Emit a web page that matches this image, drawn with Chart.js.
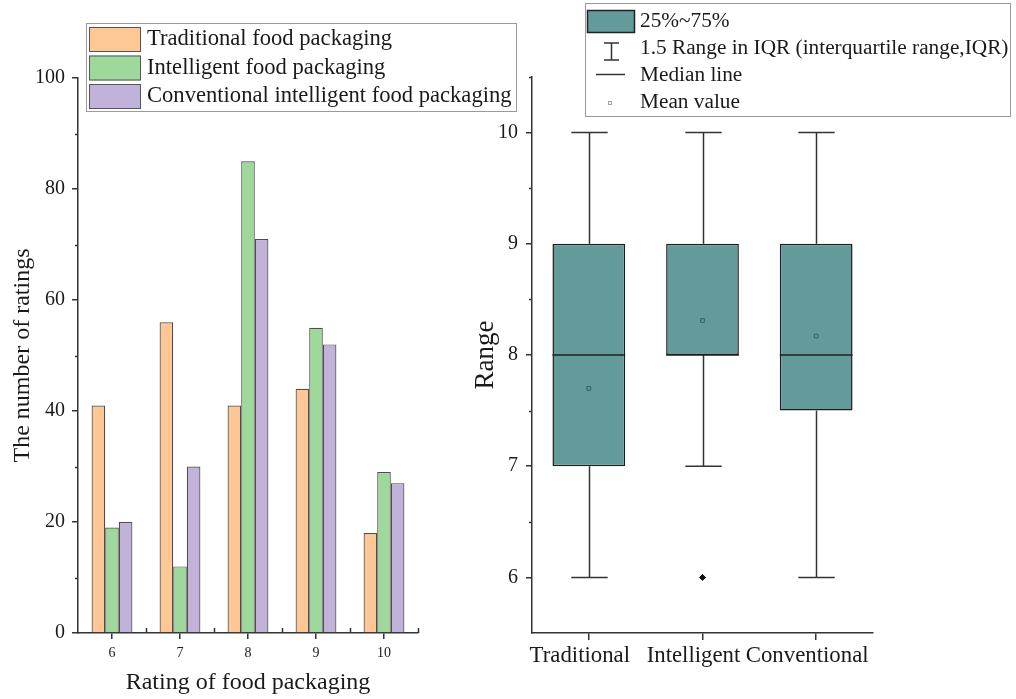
<!DOCTYPE html>
<html>
<head>
<meta charset="utf-8">
<title>Food packaging ratings</title>
<script src="https://cdn.jsdelivr.net/npm/chart.js@4.4.1/dist/chart.umd.min.js"></script>
<style>
  html, body { margin: 0; padding: 0; background: #fff; }
  #wrap { position: relative; width: 1016px; height: 699px; }
  canvas { position: absolute; left: 0; top: 0; }
</style>
</head>
<body>
<div id="wrap">
  <canvas id="barChart" width="1016" height="699"></canvas>
  <canvas id="boxChart" width="1016" height="699"></canvas>
</div>
<script>
/* ===== DATA ===== */
const ratingLabels = ["6", "7", "8", "9", "10"];
const seriesNames = ["Traditional food packaging", "Intelligent food packaging", "Conventional intelligent food packaging"];
const traditionalCounts = [41, 56, 41, 44, 18];
const intelligentCounts = [19, 12, 85, 55, 29];
const conventionalCounts = [20, 30, 71, 52, 27];
const countTicks = [0, 20, 40, 60, 80, 100];
const countMinorTicks = [10, 30, 50, 70, 90];

const groupLabels = ["Traditional", "Intelligent", "Conventional"];
const boxMin = [6, 7, 6];
const boxQ1 = [7, 8, 7.5];
const boxMedian = [8, 8, 8];
const boxQ3 = [9, 9, 9];
const boxMax = [10, 10, 10];
const boxMean = [7.70, 8.31, 8.17];
const boxOutliers = [[], [6], []];
const rangeTicks = [6, 7, 8, 9, 10];
const rangeMinorTicks = [6.5, 7.5, 8.5, 9.5, 10.5];
const boxLegendLabels = ["25%~75%", "1.5 Range in IQR (interquartile range,IQR)", "Median line", "Mean value"];

/* ===== STYLE ===== */
const SERIF = "'Liberation Serif', 'Times New Roman', serif";
const TEXT = "#1a1a1a";
const AXIS = "#333";
const ORANGE = "#FDC896";
const GREEN = "#9ED99B";
const PURPLE = "#C0B2D8";
const TEAL = "#639A9A";

Chart.defaults.font.family = SERIF;
Chart.defaults.color = TEXT;

/* ===== PLUGINS ===== */
const minorTicks = {
  id: "minorTicks",
  afterDraw(chart, args, opts) {
    const ctx = chart.ctx;
    const y = chart.scales.y;
    ctx.save();
    ctx.strokeStyle = AXIS;
    ctx.lineWidth = 1.5;
    opts.values.forEach(v => {
      const py = Math.round(y.getPixelForValue(v)) + 0.5;
      ctx.beginPath();
      ctx.moveTo(y.right, py);
      ctx.lineTo(y.right - opts.length, py);
      ctx.stroke();
    });
    ctx.restore();
  }
};

// small inward ticks between rating groups
const boundaryTicks = {
  id: "boundaryTicks",
  afterDraw(chart) {
    const ctx = chart.ctx;
    const x = chart.scales.x;
    const n = chart.data.labels.length;
    const step = (x.right - x.left) / n;
    ctx.save();
    ctx.strokeStyle = AXIS;
    ctx.lineWidth = 1.5;
    for (let i = 1; i <= n; i++) {
      const px = Math.round(x.left + i * step) + 0.5;
      ctx.beginPath();
      ctx.moveTo(px, x.top);
      ctx.lineTo(px, x.top - 5);
      ctx.stroke();
    }
    ctx.restore();
  }
};

const barLegend = {
  id: "barLegend",
  afterDraw(chart) {
    const ctx = chart.ctx;
    ctx.save();
    ctx.fillStyle = "#fff";
    ctx.fillRect(86.5, 23.5, 430, 88);
    ctx.strokeStyle = "#9a9a9a";
    ctx.lineWidth = 1;
    ctx.strokeRect(86.5, 23.5, 430, 88);
    ctx.font = "22.6px " + SERIF;
    ctx.textBaseline = "middle";
    chart.data.datasets.forEach((ds, i) => {
      const top = 27 + i * 28.5;
      ctx.fillStyle = ds.backgroundColor;
      ctx.fillRect(89.5, top, 51, 25);
      ctx.strokeStyle = "#555";
      ctx.strokeRect(89.5, top + 0.5, 51, 24);
      ctx.fillStyle = TEXT;
      ctx.fillText(ds.label, 147, top + 12.5);
    });
    ctx.restore();
  }
};

const boxParts = {
  id: "boxParts",
  beforeDatasetsDraw(chart) {
    const { ctx, scales: { x, y } } = chart;
    const meta = chart.getDatasetMeta(2);
    ctx.save();
    ctx.strokeStyle = AXIS;
    ctx.lineWidth = 1.5;
    groupLabels.forEach((g, i) => {
      const cx = Math.round(x.getPixelForValue(i)) + 0.5;
      const cap = meta.data[i].width / 4;
      const seg = (x1, y1, x2, y2) => {
        ctx.beginPath(); ctx.moveTo(x1, y1); ctx.lineTo(x2, y2); ctx.stroke();
      };
      const pMax = y.getPixelForValue(boxMax[i]);
      const pMin = y.getPixelForValue(boxMin[i]);
      seg(cx, y.getPixelForValue(boxQ3[i]), cx, pMax);
      seg(cx - cap, pMax, cx + cap, pMax);
      seg(cx, y.getPixelForValue(boxQ1[i]), cx, pMin);
      seg(cx - cap, pMin, cx + cap, pMin);
    });
    ctx.restore();
  },
  afterDatasetDraw(chart, args) {
    if (args.index !== 2) return;
    const { ctx, scales: { y } } = chart;
    ctx.save();
    ctx.strokeStyle = "#1e1e1e";
    ctx.lineWidth = 1.5;
    args.meta.data.forEach((bar, i) => {
      const py = y.getPixelForValue(boxMedian[i]);
      ctx.beginPath();
      ctx.moveTo(bar.x - bar.width / 2, py);
      ctx.lineTo(bar.x + bar.width / 2, py);
      ctx.stroke();
    });
    ctx.restore();
  }
};

const boxLegend = {
  id: "boxLegend",
  afterDraw(chart) {
    const ctx = chart.ctx;
    ctx.save();
    ctx.fillStyle = "#fff";
    ctx.fillRect(585.5, 3.5, 425, 113);
    ctx.strokeStyle = "#9a9a9a";
    ctx.lineWidth = 1;
    ctx.strokeRect(585.5, 3.5, 425, 113);

    // swatch
    ctx.fillStyle = TEAL;
    ctx.fillRect(587.5, 10.5, 47, 22);
    ctx.strokeStyle = "#222";
    ctx.lineWidth = 1.5;
    ctx.strokeRect(587.5, 10.5, 47, 22);

    // whisker symbol
    ctx.strokeStyle = AXIS;
    ctx.beginPath();
    ctx.moveTo(611.5, 43); ctx.lineTo(611.5, 60);
    ctx.moveTo(604, 43); ctx.lineTo(619, 43);
    ctx.moveTo(604, 60); ctx.lineTo(619, 60);
    ctx.stroke();

    // median symbol
    ctx.beginPath();
    ctx.moveTo(596, 74.5); ctx.lineTo(625, 74.5);
    ctx.stroke();

    // mean symbol
    ctx.strokeStyle = "#9aa6a6";
    ctx.lineWidth = 1;
    ctx.strokeRect(608.5, 101.5, 3, 3);

    ctx.fillStyle = TEXT;
    ctx.font = "21.3px " + SERIF;
    ctx.textBaseline = "middle";
    const rows = [21, 48, 75, 102];
    boxLegendLabels.forEach((t, i) => ctx.fillText(t, 640, rows[i]));
    ctx.restore();
  }
};

/* ===== BAR CHART ===== */
new Chart(document.getElementById("barChart"), {
  type: "bar",
  data: {
    labels: ratingLabels,
    datasets: [
      { label: seriesNames[0], data: traditionalCounts, backgroundColor: ORANGE },
      { label: seriesNames[1], data: intelligentCounts, backgroundColor: GREEN },
      { label: seriesNames[2], data: conventionalCounts, backgroundColor: PURPLE }
    ]
  },
  options: {
    responsive: false,
    animation: false,
    layout: { padding: { left: 0, top: 78, right: 598, bottom: 0 } },
    datasets: {
      bar: { categoryPercentage: 0.6, barPercentage: 1, borderColor: "#4d4d4d", borderWidth: 1.2 }
    },
    plugins: {
      legend: { display: false },
      tooltip: { enabled: false },
      minorTicks: { values: countMinorTicks, length: 3 }
    },
    scales: {
      x: {
        offset: true,
        grid: { display: true, drawOnChartArea: false, drawTicks: true, tickLength: 6, offset: false, color: AXIS, lineWidth: 1.5 },
        border: { color: AXIS, width: 1.5 },
        ticks: { font: { size: 14 }, color: TEXT, padding: 6, maxRotation: 0 },
        title: { display: true, text: "Rating of food packaging", font: { size: 24 }, color: TEXT, padding: { top: 0, bottom: 2 } },
        afterFit: s => { s.height = 66; }
      },
      y: {
        min: 0,
        max: 100,
        afterBuildTicks: s => { s.ticks = countTicks.map(v => ({ value: v })); },
        grid: { drawOnChartArea: false, drawTicks: true, tickLength: 6, color: AXIS, lineWidth: 1.5 },
        border: { color: AXIS, width: 1.5 },
        ticks: { font: { size: 20 }, color: TEXT, padding: 7 },
        title: { display: true, text: "The number of ratings", font: { size: 24 }, color: TEXT, padding: { top: 8, bottom: 0 } },
        afterFit: s => { s.width = 78; }
      }
    }
  },
  plugins: [minorTicks, boundaryTicks, barLegend]
});

/* ===== BOX PLOT ===== */
const outlierPoints = boxOutliers.flatMap((vals, i) => vals.map(v => ({ x: groupLabels[i], y: v })));

new Chart(document.getElementById("boxChart"), {
  type: "bar",
  data: {
    labels: groupLabels,
    datasets: [
      {
        type: "line", label: "Mean value", data: boxMean, showLine: false,
        pointStyle: "rect", pointRadius: 2.6, pointBorderWidth: 1,
        pointBorderColor: "#2f6262", pointBackgroundColor: "rgba(0,0,0,0)", order: 1
      },
      {
        type: "line", label: "Outlier", data: outlierPoints, showLine: false,
        pointStyle: "rectRot", pointRadius: 3, pointBorderWidth: 1,
        pointBorderColor: "#111", pointBackgroundColor: "#111", order: 2
      },
      {
        label: "25%~75%", data: boxQ1.map((q, i) => [q, boxQ3[i]]),
        backgroundColor: TEAL, borderColor: "#1e1e1e", borderWidth: 1.5, borderSkipped: false,
        barPercentage: 0.64, categoryPercentage: 1, order: 3
      }
    ]
  },
  options: {
    responsive: false,
    animation: false,
    layout: { padding: { left: 455, top: 77, right: 143, bottom: 0 } },
    plugins: {
      legend: { display: false },
      tooltip: { enabled: false },
      minorTicks: { values: rangeMinorTicks, length: 3 }
    },
    scales: {
      x: {
        offset: true,
        grid: { display: true, drawOnChartArea: false, drawTicks: true, tickLength: 7, offset: false, color: AXIS, lineWidth: 1.5 },
        border: { color: AXIS, width: 1.5 },
        ticks: { font: { size: 22.8 }, color: TEXT, padding: 2, maxRotation: 0, minRotation: 0, autoSkip: false, labelOffset: -9 },
        afterFit: s => { s.height = 66; }
      },
      y: {
        min: 5.5,
        max: 10.5,
        afterBuildTicks: s => { s.ticks = rangeTicks.map(v => ({ value: v })); },
        grid: { drawOnChartArea: false, drawTicks: true, tickLength: 6, color: AXIS, lineWidth: 1.5 },
        border: { color: AXIS, width: 1.5 },
        ticks: { font: { size: 20 }, color: TEXT, padding: 8 },
        title: { display: true, text: "Range", font: { size: 27 }, color: TEXT, padding: { top: 15, bottom: 0 } },
        afterFit: s => { s.width = 77; }
      }
    }
  },
  plugins: [boxParts, minorTicks, boxLegend]
});
</script>
</body>
</html>
